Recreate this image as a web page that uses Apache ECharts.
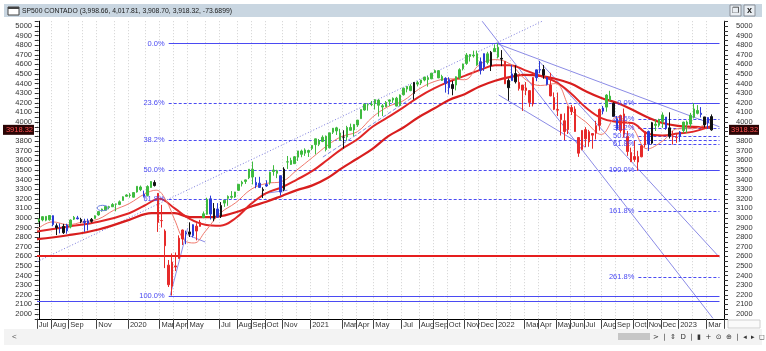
<!DOCTYPE html>
<html><head><meta charset="utf-8">
<script src="https://cdn.jsdelivr.net/npm/echarts@6/dist/echarts.min.js"></script>
<style>html,body{margin:0;padding:0;background:#fff;}#c{width:766px;height:351px;}</style>
</head><body><div id="c"></div>
<script>
// ---------------- DATA ----------------
const header = {name:'SP500 CONTADO', open:'3,998.66', high:'4,017.81', low:'3,908.70', close:'3,918.32', change:'-73.6899'};
const lastClose = 3918.32;
const startWeek = '2019-07-01';   // first weekly category (Monday)
const weekCount = 196;            // categories incl. empty space at the right
// weekly bars [open, high, low, close]
const ohlc = [
[2971,2996,2953,2990],[2980,3018,2966,3014],[3017,3018,2966,2977],[2981,3028,2972,3026],[3024,3027,2914,2932],
[2898,2944,2822,2919],[2894,2943,2840,2889],[2913,2939,2834,2847],[2866,2940,2836,2926],[2909,2985,2892,2979],
[2988,3021,2979,3007],[3001,3022,2985,2992],[2984,3002,2946,2962],[2967,2992,2856,2952],[2944,2993,2869,2970],
[2965,3000,2952,2986],[2996,3027,2992,3023],[3032,3067,3024,3067],[3078,3098,3066,3093],[3081,3121,3075,3120],
[3118,3127,3091,3110],[3117,3155,3115,3141],[3144,3150,3070,3146],[3141,3183,3134,3169],[3183,3226,3183,3221],
[3226,3248,3223,3240],[3240,3259,3212,3235],[3217,3268,3214,3265],[3271,3330,3264,3330],[3323,3338,3280,3295],
[3248,3285,3214,3226],[3235,3341,3224,3328],[3318,3385,3315,3380],[3370,3393,3328,3338],[3257,3259,2855,2954],
[2974,3137,2901,2972],[2864,2882,2478,2711],[2509,2562,2281,2305],[2290,2631,2192,2541],[2501,2641,2447,2489],
[2578,2819,2578,2790],[2782,2880,2719,2875],[2845,2868,2727,2837],[2855,2955,2802,2831],[2816,2934,2798,2930],
[2915,2945,2767,2864],[2913,2980,2910,2955],[3005,3068,2998,3044],[3039,3211,3033,3194],[3200,3233,2984,3041],
[2994,3156,2966,3098],[3094,3155,3008,3009],[3018,3166,3000,3130],[3155,3186,3116,3185],[3205,3236,3127,3225],
[3225,3280,3200,3216],[3219,3272,3209,3271],[3288,3352,3284,3351],[3356,3388,3328,3373],[3381,3400,3355,3397],
[3419,3509,3405,3508],[3507,3588,3350,3427],[3371,3425,3310,3341],[3363,3429,3313,3319],[3285,3320,3209,3298],
[3334,3393,3324,3348],[3367,3483,3347,3477],[3500,3550,3441,3484],[3493,3502,3415,3465],[3441,3441,3234,3270],
[3296,3529,3279,3509],[3583,3646,3511,3585],[3600,3628,3553,3558],[3566,3645,3566,3638],[3634,3699,3594,3699],
[3698,3712,3633,3663],[3675,3726,3647,3709],[3684,3712,3636,3703],[3723,3760,3707,3756],[3764,3827,3663,3825],
[3804,3823,3749,3768],[3797,3861,3790,3841],[3852,3859,3694,3714],[3731,3887,3725,3887],[3893,3937,3875,3935],
[3939,3950,3865,3907],[3886,3929,3805,3811],[3842,3914,3723,3842],[3844,3960,3806,3943],[3943,3983,3910,3913],
[3917,3978,3853,3975],[3969,4021,3949,4020],[4035,4130,4035,4129],[4125,4192,4118,4185],[4180,4195,4118,4180],
[4185,4219,4165,4181],[4191,4238,4130,4233],[4228,4237,4057,4174],[4169,4187,4062,4156],[4159,4218,4156,4204],
[4216,4234,4168,4230],[4229,4256,4199,4247],[4248,4262,4164,4166],[4174,4287,4165,4281],[4284,4356,4276,4352],
[4343,4372,4309,4370],[4373,4393,4321,4327],[4296,4415,4233,4412],[4410,4429,4371,4395],[4406,4440,4385,4437],
[4437,4469,4424,4468],[4462,4480,4368,4442],[4450,4511,4446,4509],[4514,4546,4513,4535],[4535,4536,4457,4459],
[4474,4492,4427,4433],[4402,4466,4306,4455],[4442,4466,4288,4357],[4348,4429,4278,4391],[4385,4475,4329,4471],
[4464,4560,4447,4545],[4554,4608,4537,4605],[4610,4718,4595,4698],[4702,4708,4630,4683],[4689,4743,4671,4698],
[4712,4744,4585,4595],[4628,4672,4495,4538],[4572,4713,4532,4712],[4710,4731,4600,4621],[4587,4740,4531,4726],
[4733,4808,4733,4766],[4779,4819,4662,4677],[4655,4749,4582,4663],[4632,4632,4395,4398],[4357,4453,4223,4432],
[4431,4595,4430,4501],[4505,4590,4401,4419],[4413,4490,4327,4349],[4332,4385,4115,4385],[4355,4416,4279,4329],
[4327,4327,4157,4204],[4188,4465,4162,4463],[4462,4546,4425,4543],[4541,4637,4507,4546],[4547,4594,4450,4488],
[4462,4471,4381,4393],[4385,4513,4267,4272],[4255,4308,4124,4132],[4130,4307,4062,4123],[4081,4082,3859,4024],
[4013,4090,3811,3901],[3920,4168,3875,4158],[4151,4178,4073,4109],[4134,4164,3900,3901],[3838,3838,3637,3675],
[3715,3914,3705,3912],[3920,3946,3738,3825],[3792,3918,3742,3899],[3880,3880,3722,3863],[3883,4012,3818,3962],
[3965,4140,3910,4130],[4113,4167,4080,4145],[4155,4290,4107,4280],[4270,4325,4218,4228],[4195,4204,4057,4058],
[4034,4062,3907,3924],[3910,4077,3887,4067],[4084,4140,3837,3873],[3849,3907,3647,3693],[3682,3733,3584,3586],
[3610,3806,3585,3640],[3640,3700,3492,3583],[3638,3763,3632,3753],[3763,3906,3735,3901],[3901,3911,3698,3771],
[3780,4001,3767,3993],[3977,4028,3906,3965],[3966,4034,3945,4026],[4006,4100,3939,4072],[4052,4052,3918,3934],
[3939,4101,3828,3852],[3853,3906,3765,3845],[3843,3879,3783,3840],[3853,3906,3795,3895],[3910,4003,3885,3999],
[3999,4015,3886,3973],[3979,4095,3949,4071],[4050,4195,4037,4136],[4120,4176,4079,4090],[4091,4155,4047,4079],
[4053,4053,3943,3970],[3992,4048,3928,4046],[4056,4079,3909,3918]
];
// bar colour class per week: g=green, r=red, b=blue, k=black
const barClass = "gggg bkbkb gg bkbbk gggggggggggggg b gg k rrrrrrrr bkb rr gg bkbk ggggggggg bbkb ggg bk gggggggggggggggg k ggggggggggggggggggg k gggggggg bbk ggggggg bb g k gg k r k b k rrrrr bbkb rrrrrrrrrrrrrrr b gg kb rrrrrrrr bk ggg bk rr b ggggg bkbk";
// months that carry a label on the time axis
const tickMonths = ['2019-07','2019-08','2019-09','2019-11','2020-01','2020-03','2020-04','2020-05','2020-07','2020-08','2020-09','2020-10','2020-11','2021-01','2021-03','2021-04','2021-05','2021-07','2021-08','2021-09','2021-10','2021-11','2021-12','2022-01','2022-03','2022-04','2022-05','2022-06','2022-07','2022-08','2022-09','2022-10','2022-11','2022-12','2023-01','2023-03'];
const monthNames = ['Jan','Feb','Mar','Apr','May','Jun','Jul','Aug','Sep','Oct','Nov','Dec'];
// moving averages [date, value]
const maFast = [['2019-07-01',2880],['2019-08-01',2960],['2019-09-01',2930],['2019-10-01',2960],['2019-11-01',2990],['2019-12-01',3080],['2020-01-01',3150],['2020-02-01',3250],['2020-02-24',3290],['2020-03-15',3180],['2020-04-01',2980],['2020-04-20',2770],['2020-05-10',2740],['2020-06-01',2860],['2020-07-01',3050],['2020-08-01',3160],['2020-09-01',3300],['2020-10-01',3360],['2020-11-01',3380],['2020-12-01',3500],['2021-01-01',3630],['2021-02-01',3760],['2021-03-01',3850],['2021-04-01',3900],['2021-05-01',4050],['2021-06-01',4160],['2021-07-01',4220],['2021-08-01',4340],['2021-09-01',4420],['2021-10-01',4450],['2021-11-01',4440],['2021-12-01',4600],['2022-01-01',4650],['2022-02-01',4600],['2022-03-01',4450],['2022-04-01',4380],['2022-05-01',4400],['2022-06-01',4130],['2022-07-01',4000],['2022-08-01',3870],['2022-09-01',4050],['2022-10-01',3950],['2022-11-01',3720],['2022-12-01',3800],['2023-01-01',3930],['2023-02-01',3930],['2023-03-09',4030]];
const maMid = [['2019-07-01',2860],['2019-09-01',2910],['2019-11-01',2960],['2020-01-01',3050],['2020-02-01',3130],['2020-03-01',3200],['2020-04-01',3100],['2020-05-01',2990],['2020-06-01',2930],['2020-07-01',2920],['2020-08-01',3000],['2020-09-01',3150],['2020-10-01',3260],['2020-11-01',3320],['2020-12-01',3400],['2021-01-01',3490],['2021-02-01',3610],['2021-03-01',3720],['2021-04-01',3820],['2021-05-01',3950],['2021-06-01',4050],['2021-07-01',4150],['2021-08-01',4260],['2021-09-01',4350],['2021-10-01',4420],['2021-11-01',4480],['2021-12-01',4540],['2022-01-01',4590],['2022-02-01',4590],['2022-03-01',4540],['2022-04-01',4480],['2022-05-01',4420],['2022-06-01',4300],['2022-07-01',4150],['2022-08-01',4040],['2022-09-01',4000],['2022-10-01',3990],['2022-11-01',3880],['2022-12-01',3860],['2023-01-01',3880],['2023-02-01',3900],['2023-03-09',3960]];
const maSlow = [['2019-07-01',2780],['2019-09-01',2820],['2019-11-01',2880],['2020-01-01',2980],['2020-02-15',3050],['2020-04-01',3050],['2020-05-01',3010],['2020-06-15',3010],['2020-08-01',3060],['2020-09-01',3120],['2020-10-01',3170],['2020-11-01',3230],['2020-12-01',3290],['2021-01-01',3340],['2021-02-01',3420],['2021-03-01',3520],['2021-04-01',3620],['2021-05-01',3720],['2021-06-01',3850],['2021-07-01',3940],['2021-08-01',4050],['2021-09-01',4140],['2021-10-01',4230],['2021-11-01',4290],['2021-12-01',4370],['2022-01-01',4430],['2022-02-01',4470],['2022-03-01',4490],['2022-04-01',4480],['2022-05-01',4450],['2022-06-01',4400],['2022-07-01',4320],['2022-08-01',4250],['2022-09-01',4200],['2022-10-01',4130],['2022-11-01',4050],['2022-12-01',3990],['2023-01-01',3960],['2023-02-01',3950],['2023-03-09',3940]];
// Fibonacci retracements [label, level, style]
const fibA = {from:'2020-03-20', to:'2023-03-25', levels:[['0.0%',4818,'solid'],['23.6%',4199,'dash'],['38.2%',3815,'dash'],['50.0%',3505,'dash'],['61.8%',3195,'dash'],['100.0%',2192,'solid']]};
const fibB = {from:'2022-10-14', to:'2023-03-25', levels:[['0.0%',4198,'solid'],['23.6%',4035,'dash'],['38.2%',3933,'dash'],['50.0%',3850,'dash'],['61.8%',3770,'dash'],['100.0%',3500,'solid'],['161.8%',3077,'dash'],['261.8%',2384,'dash']]};
// horizontal levels
const redLevel = 2605;
const blueLevel = 2135;
// trendlines [[date, value],[date, value]]
const trendDotted = [['2019-07-01',2545],['2022-04-05',5050]];
const trendLines = [
  [['2021-12-06',5050],['2023-03-12',1955]],
  [['2022-03-29',4637],['2023-03-25',2590]],
  [['2022-01-04',4818],['2023-03-25',3950]],
  [['2022-01-08',4281],['2022-06-30',3740]],
  [['2020-09-21',3250],['2020-11-12',3290]],
  [['2020-03-23',2192],['2020-04-27',2896]],
  [['2020-04-27',2823],['2020-06-01',2750]]
];
const trendDashed = [['2021-01-22',3635],['2021-07-21',4260]];
const ellipseMark = [['2019-11-09',3104,11,28]]; // centre date, value, half-width days, half-height points

// ---------------- BUILD ----------------
const DAY = 86400000;
const t0 = Date.UTC(2019,6,1);
function wk(s){const a=s.split('-').map(Number);return (Date.UTC(a[0],a[1]-1,a[2])-t0)/DAY/7-0.5;}
const cats=[];
for(let i=0;i<weekCount;i++){cats.push(new Date(t0+i*7*DAY).toISOString().slice(0,10));}
function friMonth(i){const t=new Date(t0+(i*7+4)*DAY);return t.getUTCFullYear()+'-'+String(t.getUTCMonth()+1).padStart(2,'0');}
const monthStart={};
for(let i=0;i<weekCount;i++){const m=friMonth(i);if(i===0||m!==friMonth(i-1))monthStart[i]=m;}
const isTick=i=>monthStart[i]!==undefined&&tickMonths.indexOf(monthStart[i])>=0;
const cls=barClass.replace(/\s+/g,'');
const colors={g:'#3fbb3f',r:'#e62a2a',b:'#2b3ad6',k:'#111111'};
const candleData=ohlc.map((d,i)=>{const c=colors[cls[i]]||'#111';return {value:[d[0],d[3],d[2],d[1]],itemStyle:{color:c,color0:c,borderColor:c,borderColor0:c}};});
const FIB='#4a4af2', TREND='#8c8ce6', FONT='Liberation Sans';
const series=[];
function seg(pts,style,z){series.push({type:'line',xAxisIndex:1,yAxisIndex:0,data:pts.map(p=>[wk(p[0]),p[1]]),symbol:'none',silent:true,animation:false,lineStyle:style,z:z||3});}
// horizontal levels: [x1, x2, value, kind]  kind 0 solid fib, 1 dashed fib, 2 red level, 3 blue level
const levelRows=[[wk(startWeek),wk('2023-03-25'),redLevel,2],[wk(startWeek),wk('2023-03-25'),blueLevel,3]];
const fibLabelData=[];
[fibA,fibB].forEach(f=>{f.levels.forEach(l=>{levelRows.push([wk(f.from),wk(f.to),l[1],l[2]==='solid'?0:1]);fibLabelData.push([wk(f.from),l[1],l[0]]);});});
series.push({type:'custom',xAxisIndex:1,yAxisIndex:0,data:levelRows,silent:true,animation:false,z:4,
  renderItem:(p,api)=>{const v=api.value(2),k=api.value(3);const a=api.coord([api.value(0),v]),b=api.coord([api.value(1),v]);const cs=p.coordSys;
    const w=k===2?2:1;let y=Math.round(a[1]);if(w===1)y+=0.5;const x1=Math.max(a[0],cs.x),x2=Math.min(b[0],cs.x+cs.width);
    return {type:'line',shape:{x1:x1,y1:y,x2:x2,y2:y},style:{stroke:k===2?'#e61e1e':FIB,lineWidth:w,lineDash:k===1?[3,2]:null,opacity:1}};}});
seg(trendDotted,{color:'#7a7adc',width:1,type:[1,2]},3);
trendLines.forEach(t=>seg(t,{color:TREND,width:1},3));
seg(trendDashed,{color:'#7f8fe0',width:1,type:[4,2]},3);
// moving averages
function maSeries(arr,color,width){series.push({type:'line',xAxisIndex:1,yAxisIndex:0,data:arr.map(p=>[wk(p[0]),p[1]]),symbol:'none',smooth:0.4,silent:true,animation:false,lineStyle:{color:color,width:width},z:5});}
maSeries(maSlow,'#d81e1e',2.2);
maSeries(maMid,'#e02626',2);
maSeries(maFast,'#f07a6e',1);
// candles
series.push({type:'candlestick',xAxisIndex:0,yAxisIndex:0,data:candleData,barWidth:2,animation:false,silent:true,z:6,itemStyle:{borderWidth:1}});
// fib labels
series.push({type:'custom',xAxisIndex:1,yAxisIndex:0,data:fibLabelData.map(d=>[d[0],d[1]]),silent:true,animation:false,z:7,clip:false,
  renderItem:(p,api)=>{const c=api.coord([api.value(0),api.value(1)]);return {type:'text',x:c[0]-4,y:c[1],style:{text:fibLabelData[p.dataIndex][2],align:'right',verticalAlign:'middle',fill:FIB,fontSize:7.5,fontFamily:FONT}};}});
// ellipse
series.push({type:'custom',xAxisIndex:1,yAxisIndex:0,data:ellipseMark.map(e=>[wk(e[0]),e[1],e[2]/7,e[3]]),silent:true,animation:false,z:7,
  renderItem:(p,api)=>{const x=api.value(0),y=api.value(1),dx=api.value(2),dy=api.value(3);const c=api.coord([x,y]),a=api.coord([x+dx,y+dy]);return {type:'ellipse',shape:{cx:c[0],cy:c[1],rx:Math.abs(a[0]-c[0]),ry:Math.abs(a[1]-c[1])},style:{fill:'none',stroke:'#6a7ee0',lineWidth:1}};}});

const yBase={type:'value',min:1950,max:5050,interval:50,axisLine:{show:true,lineStyle:{color:'#000',width:1}},axisTick:{show:true,length:4,lineStyle:{color:'#333'}},splitLine:{show:false},
  axisLabel:{formatter:v=>v%100===0?String(v):'',fontSize:7.5,color:'#333',fontFamily:FONT}};
const titleText=header.name+' ('+[header.open,header.high,header.low,header.close,header.change].join(', ')+')';
const option={
  animation:false,
  backgroundColor:'#fff',
  grid:{left:37,right:42,top:21.2,bottom:32.2,containLabel:false},
  xAxis:[
    {type:'category',data:cats,boundaryGap:true,
     axisLine:{show:true,lineStyle:{color:'#000',width:1}},
     axisTick:{show:true,length:10,interval:(i)=>isTick(i),lineStyle:{color:'#444'}},
     axisLabel:{interval:(i)=>isTick(i),formatter:(v,i)=>{const m=monthStart[i];if(!m)return '';const mm=+m.slice(5);return mm===1?m.slice(0,4):monthNames[mm-1];},align:'left',margin:2,fontSize:7.5,color:'#333',fontFamily:FONT},
     splitLine:{show:true,interval:(i)=>monthStart[i]!==undefined,lineStyle:{color:'#d0d0d0',type:[1,2],width:1}}},
    {type:'value',min:-0.5,max:weekCount-0.5,show:false}
  ],
  yAxis:[Object.assign({},yBase,{position:'left',axisLabel:Object.assign({},yBase.axisLabel,{margin:5})}),
         Object.assign({},yBase,{position:'right',axisLabel:Object.assign({},yBase.axisLabel,{margin:12})})],
  series:series,
  graphic:[
    {type:'rect',shape:{x:4,y:4,width:758,height:13},style:{fill:'#c9d6e1'},silent:true},
    {type:'rect',shape:{x:8,y:7,width:11,height:8},style:{fill:'#fff',stroke:'#444',lineWidth:1},silent:true},
    {type:'rect',shape:{x:8,y:7,width:11,height:2},style:{fill:'#444'},silent:true},
    {type:'text',x:22,y:11,style:{text:titleText,fontSize:6.8,fontFamily:FONT,fill:'#1a1a1a',verticalAlign:'middle'},silent:true},
    {type:'rect',shape:{x:730,y:5,width:11,height:11},style:{fill:'#e9eef3',stroke:'#8a9099',lineWidth:1},silent:true},
    {type:'text',x:735.5,y:10.5,style:{text:'❐',fontSize:8,fill:'#222',align:'center',verticalAlign:'middle'},silent:true},
    {type:'rect',shape:{x:744,y:5,width:11,height:11},style:{fill:'#e9eef3',stroke:'#8a9099',lineWidth:1},silent:true},
    {type:'text',x:749.5,y:10.5,style:{text:'x',fontSize:9,fontWeight:'bold',fill:'#222',align:'center',verticalAlign:'middle'},silent:true},
    {type:'rect',shape:{x:728,y:320,width:32,height:8},style:{fill:'#fafafa',stroke:'#d0d0d0',lineWidth:1},silent:true},
    {type:'rect',shape:{x:4,y:329,width:758,height:16},style:{fill:'#f3f3f3'},silent:true},
    {type:'text',x:12,y:337,style:{text:'<',fontSize:8,fill:'#555',verticalAlign:'middle'},silent:true},
    {type:'rect',shape:{x:618,y:333,width:32,height:7},style:{fill:'#c6c6c6'},silent:true},
    {type:'text',x:653,y:337,style:{text:'>  |  ⇕  D  |  ▮  +  ⊙  ⊕  |  ◂  ▸  ◻',fontSize:7,fill:'#333',fontFamily:'DejaVu Sans',verticalAlign:'middle'},silent:true}
  ]
};
const chart=echarts.init(document.getElementById('c'));
chart.setOption(option);
const py=chart.convertToPixel({yAxisIndex:0},lastClose);
chart.setOption({graphic:option.graphic.concat([
  {type:'rect',shape:{x:3,y:py-5,width:31,height:10},style:{fill:'#2a0505'},silent:true,z:50},
  {type:'text',x:33,y:py,style:{text:lastClose.toFixed(2),fontSize:7.5,fontFamily:FONT,fill:'#ff5050',align:'right',verticalAlign:'middle'},silent:true,z:51},
  {type:'rect',shape:{x:729,y:py-5,width:30,height:10},style:{fill:'#2a0505'},silent:true,z:50},
  {type:'text',x:731,y:py,style:{text:lastClose.toFixed(2),fontSize:7.5,fontFamily:FONT,fill:'#ff5050',verticalAlign:'middle'},silent:true,z:51}
])});
</script></body></html>
